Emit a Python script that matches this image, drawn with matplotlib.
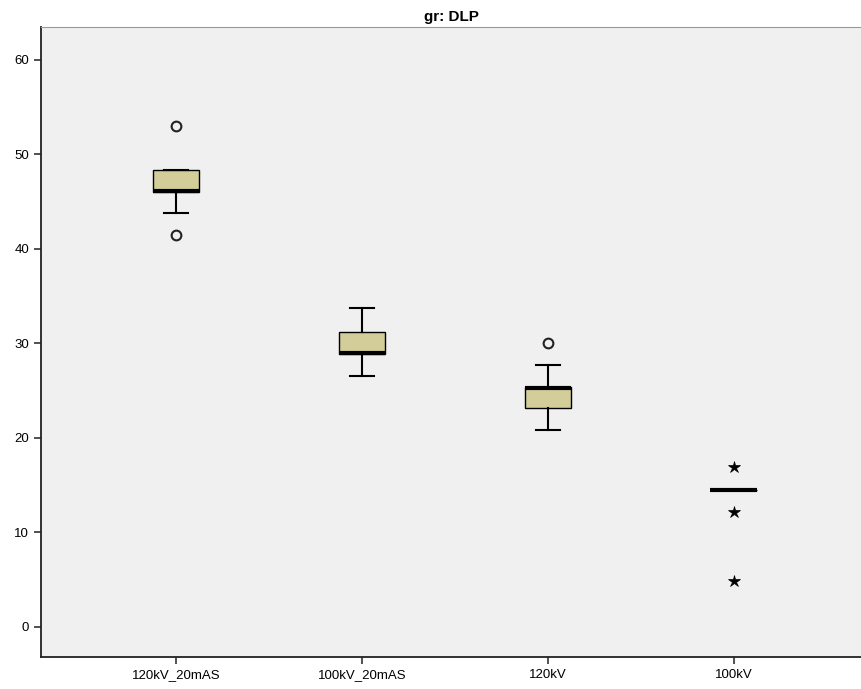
import matplotlib
matplotlib.use('Agg')
import matplotlib.pyplot as plt

plt.rcParams['font.family'] = ['Liberation Sans Narrow', 'Liberation Sans', 'DejaVu Sans']

groups = ['120kV_20mAS', '100kV_20mAS', '120kV', '100kV']
q1 = [46.0, 28.9, 23.2, 14.5]
med = [46.1, 29.0, 25.3, 14.5]
q3 = [48.4, 31.2, 25.4, 14.5]
whislo = [43.8, 26.5, 20.8, 14.5]
whishi = [48.4, 33.7, 27.7, 14.5]
outliers = [[53.0, 41.5], [], [30.0], []]
extremes = [[], [], [], [16.9, 12.1, 4.9]]

stats = []
for i in range(len(groups)):
    stats.append(dict(med=med[i], q1=q1[i], q3=q3[i], whislo=whislo[i],
                      whishi=whishi[i], fliers=outliers[i], label=groups[i]))

fig = plt.figure(figsize=(8.62, 6.89), dpi=100)
ax = fig.add_axes([0.0476, 0.0464, 0.9524, 0.9146])
ax.set_facecolor('#f0f0f0')

pos = list(range(1, len(groups) + 1))
ax.bxp(stats, positions=pos, widths=0.25, capwidths=0.13, patch_artist=True,
       boxprops=dict(facecolor='#d3ce99', edgecolor='black', linewidth=1.0),
       medianprops=dict(color='black', linewidth=3),
       whiskerprops=dict(color='black', linewidth=1.5),
       capprops=dict(color='black', linewidth=1.5),
       flierprops=dict(marker='o', markerfacecolor='none', markeredgecolor='#222222',
                       markersize=7, markeredgewidth=1.5))

# extreme values drawn as stars, as SPSS does
for i, vals in enumerate(extremes):
    if vals:
        ax.plot([pos[i]] * len(vals), vals, linestyle='none', marker='*',
                markersize=9, color='black', markeredgewidth=0.5)

ax.set_xlim(0.275, 4.69)
ax.set_ylim(-3.2, 63.5)
ax.set_yticks([0, 10, 20, 30, 40, 50, 60])
ax.set_xticks(pos)
ax.set_xticklabels(groups)
ax.tick_params(axis='both', labelsize=9.5, length=5, width=1.2, color='#333333')

ax.spines['right'].set_visible(False)
ax.spines['top'].set_color('#999999')
ax.spines['left'].set_color('#222222')
ax.spines['bottom'].set_color('#222222')
ax.spines['left'].set_linewidth(1.3)
ax.spines['bottom'].set_linewidth(1.3)

ax.set_title('gr: DLP', fontsize=11, fontweight='bold', pad=4)

fig.savefig('out.png', dpi=100)
